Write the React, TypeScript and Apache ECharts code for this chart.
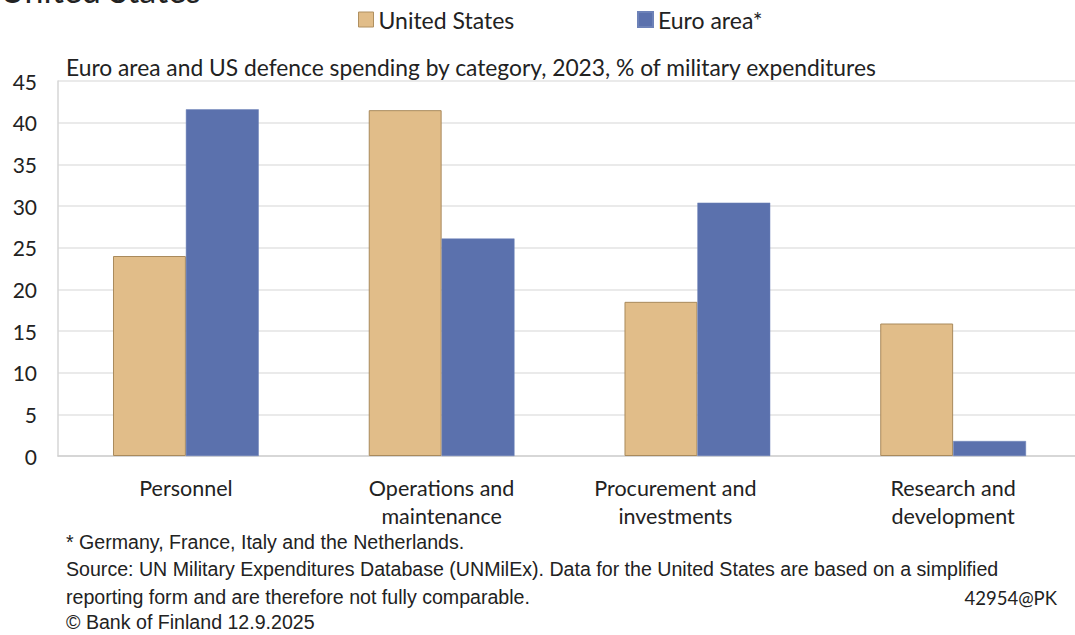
import React, { useEffect, useRef } from "react";
import * as echarts from "echarts";

const categories = [
  "Personnel",
  "Operations and\nmaintenance",
  "Procurement and\ninvestments",
  "Research and\ndevelopment",
];
const usValues = [24.0, 41.5, 18.5, 15.9];
const euroValues = [41.6, 26.1, 30.4, 1.8];
const seriesNames = ["United States", "Euro area*"];
const yTicks = { min: 0, max: 45, interval: 5 };

const titleText =
  "Euro area and US defence spending by category, 2023, % of military expenditures";
const footLines = [
  "* Germany, France, Italy and the Netherlands.",
  "Source: UN Military Expenditures Database (UNMilEx). Data for the United States are based on a simplified",
  "reporting form and are therefore not fully comparable.",
  "© Bank of Finland 12.9.2025",
];
const codeText = "42954@PK";

const FONT = "Lato, 'Open Sans', sans-serif";
const NARROW = "'Liberation Sans Narrow', 'Liberation Sans', sans-serif";
const TAN = "#e1bd89";
const BLUE = "#5b71ad";

export default function App() {
  const ref = useRef<HTMLDivElement>(null);
  useEffect(() => {
    document.body.style.margin = "0";
    const chart = echarts.init(ref.current!, null, { renderer: "svg" });
    const catData = categories.map((c, i) =>
      i === 2 ? { value: c, textStyle: { padding: [0, 44, 0, 0] } } : c
    );
    chart.setOption({
      animation: false,
      backgroundColor: "#ffffff",
      textStyle: { fontFamily: FONT },
      legend: [
        {
          left: 353,
          top: 3,
          icon: "rect",
          itemWidth: 15,
          itemHeight: 15,
          itemGap: 6,
          data: [{ name: seriesNames[0], itemStyle: { borderColor: "#b09060", borderWidth: 1 } }],
          textStyle: { fontSize: 23, color: "#222", fontFamily: FONT },
        },
        {
          left: 632,
          top: 3,
          icon: "rect",
          itemWidth: 15,
          itemHeight: 15,
          itemGap: 6,
          data: [seriesNames[1]],
          textStyle: { fontSize: 23, color: "#222", fontFamily: FONT },
        },
      ],
      grid: { left: 58, right: 4, top: 81, bottom: 179, containLabel: false },
      xAxis: {
        type: "category",
        data: catData,
        axisTick: { show: false },
        axisLine: { lineStyle: { color: "#d0d0d0", width: 1.5 } },
        axisLabel: {
          fontSize: 21.5,
          lineHeight: 28,
          color: "#222",
          margin: 18,
          interval: 0,
          fontFamily: FONT,
        },
      },
      yAxis: {
        type: "value",
        min: yTicks.min,
        max: yTicks.max,
        interval: yTicks.interval,
        axisLine: { show: true, lineStyle: { color: "#d6d6d6", width: 1.5 } },
        axisTick: { show: false },
        splitLine: { lineStyle: { color: "#e3e3e3", width: 1.5 } },
        axisLabel: { fontSize: 21, color: "#222", margin: 21, fontFamily: FONT },
      },
      series: [
        {
          name: seriesNames[0],
          type: "bar",
          data: usValues,
          barGap: "0%",
          barCategoryGap: "43%",
          itemStyle: { color: TAN, borderColor: "#a98a5c", borderWidth: 1 },
        },
        {
          name: seriesNames[1],
          type: "bar",
          data: euroValues,
          itemStyle: { color: BLUE, borderColor: "#6d82b8", borderWidth: 0.5 },
        },
      ],
      graphic: [
        {
          type: "text",
          left: 0,
          top: -28,
          style: { text: "United States", fill: "#222", font: `34px ${FONT}` },
        },
        {
          type: "text",
          left: 66,
          top: 55,
          style: { text: titleText, fill: "#222", font: `22.8px ${FONT}` },
        },
        ...footLines.map((t, i) => ({
          type: "text",
          left: 66,
          top: [532, 559, 587, 612][i],
          style: { text: t, fill: "#222", font: `19.6px ${NARROW}` },
        })),
        {
          type: "text",
          x: 1057,
          y: 598,
          style: {
            text: codeText,
            fill: "#222",
            font: `18.5px ${FONT}`,
            align: "right",
            verticalAlign: "middle",
          },
        },
      ],
    });
    return () => chart.dispose();
  }, []);
  return (
    <div
      style={{
        position: "fixed",
        left: 0,
        top: 0,
        width: 1075,
        height: 635,
        overflow: "hidden",
      }}
    >
      <div ref={ref} style={{ width: 1085, height: 635 }} />
    </div>
  );
}
